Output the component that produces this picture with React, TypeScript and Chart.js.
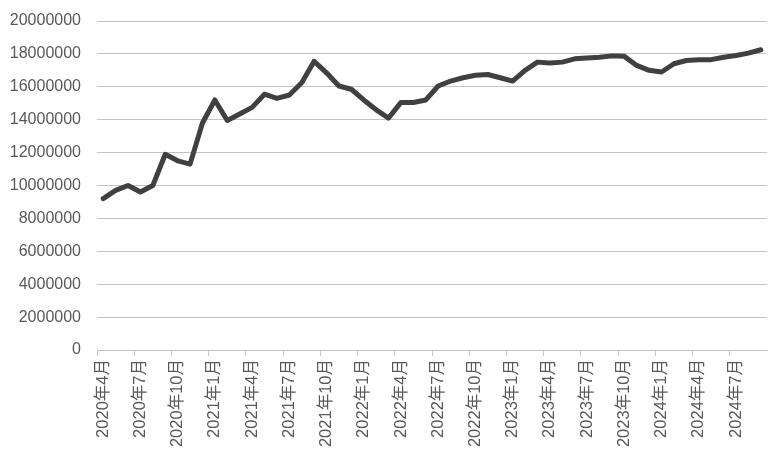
import React, { useEffect, useRef } from "react";
import { Chart, registerables } from "chart.js";

Chart.register(...registerables);

const months: string[] = [];
for (let y = 2020; y <= 2024; y++) {
  for (let m = 1; m <= 12; m++) {
    if (y === 2020 && m < 4) continue;
    if (y === 2024 && m > 9) continue;
    months.push(`${y}年${m}月`);
  }
}

const values = [
  9200000, 9700000, 10000000, 9600000, 10000000, 11900000, 11500000, 11300000,
  13800000, 15200000, 13950000, 14350000, 14750000, 15550000, 15300000, 15500000,
  16250000, 17550000, 16850000, 16050000, 15850000, 15200000, 14600000, 14100000,
  15050000, 15050000, 15200000, 16050000, 16350000, 16550000, 16700000, 16750000,
  16550000, 16350000, 17000000, 17500000, 17450000, 17500000, 17700000, 17750000,
  17800000, 17880000, 17850000, 17300000, 17000000, 16900000, 17400000, 17600000,
  17650000, 17650000, 17800000, 17900000, 18050000, 18250000,
];

const yMin = 0;
const yMax = 20000000;
const yStep = 2000000;

const FONT = "'Liberation Sans', 'Noto Sans CJK SC', sans-serif";
const TEXT = "#595959";
const GRID = "#c4c4c4";

export default function App() {
  const ref = useRef<HTMLCanvasElement | null>(null);
  useEffect(() => {
    if (!ref.current) return;
    const chart = new Chart(ref.current, {
      type: "line",
      data: {
        labels: months,
        datasets: [
          {
            data: values,
            borderColor: "#404040",
            borderWidth: 5,
            pointRadius: 0,
            tension: 0,
            borderJoinStyle: "round",
            borderCapStyle: "round",
            fill: false,
          },
        ],
      },
      options: {
        responsive: false,
        animation: false,
        layout: { padding: { left: 0, right: 12, top: 21, bottom: 0 } },
        plugins: { legend: { display: false }, tooltip: { enabled: false } },
        scales: {
          x: {
            type: "category",
            offset: true,
            grid: {
              offset: true,
              drawOnChartArea: false,
              drawTicks: true,
              tickLength: 6,
              color: (ctx: any) => (ctx.index % 3 === 0 ? GRID : "rgba(0,0,0,0)"),
            },
            border: { display: true, color: GRID, width: 1 },
            ticks: {
              autoSkip: false,
              minRotation: 90,
              maxRotation: 90,
              padding: 3,
              color: TEXT,
              font: { family: FONT, size: 16.5 },
              callback: (_v: any, i: number) => (i % 3 === 0 ? months[i] : ""),
            },
            afterFit: (scale: any) => {
              scale.height = 111;
              scale.paddingLeft = 0;
              scale.paddingRight = 0;
            },
          },
          y: {
            min: yMin,
            max: yMax,
            grid: { color: GRID, drawTicks: false, lineWidth: 1 },
            border: { display: false },
            ticks: {
              stepSize: yStep,
              padding: 16,
              color: TEXT,
              font: { family: FONT, size: 16 },
              callback: (v: any) => String(v),
            },
            afterFit: (scale: any) => {
              scale.width = 97;
              scale.paddingTop = 0;
              scale.paddingBottom = 0;
            },
          },
        },
      },
    } as any);
    return () => chart.destroy();
  }, []);
  return (
    <div style={{ position: "absolute", left: 0, top: 0, width: 779, height: 461, background: "#fff" }}>
      <canvas ref={ref} width={779} height={461} style={{ width: 779, height: 461 }} />
    </div>
  );
}
